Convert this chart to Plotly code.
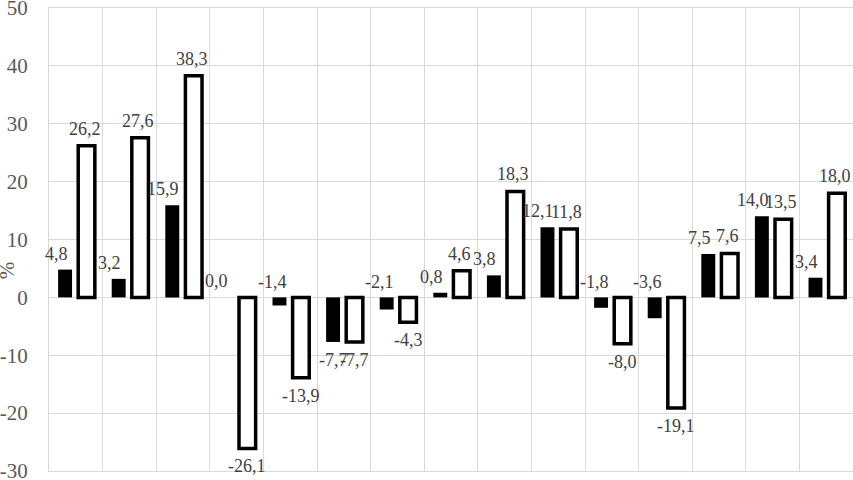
import plotly.graph_objects as go

categories = [str(i) for i in range(1, 16)]
series_a = [4.8, 3.2, 15.9, 0.0, -1.4, -7.7, -2.1, 0.8, 3.8, 12.1, -1.8, -3.6, 7.5, 14.0, 3.4]
series_b = [26.2, 27.6, 38.3, -26.1, -13.9, -7.7, -4.3, 4.6, 18.3, 11.8, -8.0, -19.1, 7.6, 13.5, 18.0]
y_ticks = [-30, -20, -10, 0, 10, 20, 30, 40, 50]

def fmt(v):
    return f"{v:.1f}".replace(".", ",")

A_W, A_OFF = 0.26, -0.33
B_W, B_OFF = 0.31, 0.045

fig = go.Figure()
fig.add_trace(go.Bar(x=categories, y=series_a, width=A_W, offset=A_OFF,
                     marker=dict(color="black", line=dict(width=0)), showlegend=False))
fig.add_trace(go.Bar(x=categories, y=series_b, width=B_W, offset=B_OFF,
                     marker=dict(color="white", line=dict(color="black", width=3.5)), showlegend=False))

lab_font = dict(family="Liberation Serif", size=18, color="#404040")
ann = []
for i, v in enumerate(series_a):
    xc = i + A_OFF + A_W / 2
    if v >= 0:
        ann.append(dict(x=xc, y=v, text=fmt(v), showarrow=False, yanchor="bottom",
                        yshift=4, xshift=-9, font=lab_font))
    elif v > -5:
        ann.append(dict(x=xc, y=0, text=fmt(v), showarrow=False, yanchor="bottom",
                        yshift=3, xshift=-7, font=lab_font))
    else:
        ann.append(dict(x=xc, y=v, text=fmt(v), showarrow=False, yanchor="top",
                        yshift=-6, font=lab_font))
for i, v in enumerate(series_b):
    xc = i + B_OFF + B_W / 2
    if v >= 0:
        ann.append(dict(x=xc, y=v, text=fmt(v), showarrow=False, yanchor="bottom",
                        yshift=5, xshift=-2, font=lab_font))
    else:
        ann.append(dict(x=xc, y=v, text=fmt(v), showarrow=False, yanchor="top",
                        yshift=-6, font=lab_font))

ann.append(dict(xref="paper", yref="paper", x=-0.052, y=0.434, text="%", textangle=-90,
                xanchor="center", yanchor="middle",
                showarrow=False, font=dict(family="Liberation Serif", size=21, color="#595959")))

fig.update_layout(
    width=853, height=480,
    margin=dict(l=49, r=0, t=8, b=9),
    plot_bgcolor="white", paper_bgcolor="white",
    barmode="overlay",
    annotations=ann,
    xaxis=dict(type="category", tickson="boundaries", showticklabels=False,
               showgrid=True, gridcolor="#d9d9d9", gridwidth=1, ticks="",
               range=[-0.5, 14.5], zeroline=False, showline=True, mirror=True,
               linecolor="#d9d9d9", linewidth=1, automargin=False),
    yaxis=dict(range=[-30, 50], tickvals=y_ticks, ticktext=[str(t) for t in y_ticks],
               showgrid=True, gridcolor="#d9d9d9", gridwidth=1, zeroline=False,
               showline=True, linecolor="#d9d9d9", linewidth=1,
               ticks="", ticklabelstandoff=16, automargin=False,
               ticklabeloverflow="allow",
               tickfont=dict(family="Liberation Serif", size=21, color="#595959")),
)

fig.write_html("out.html", config={"displayModeBar": False},
               post_script="document.body.style.margin='0';document.body.style.overflow='hidden';")
